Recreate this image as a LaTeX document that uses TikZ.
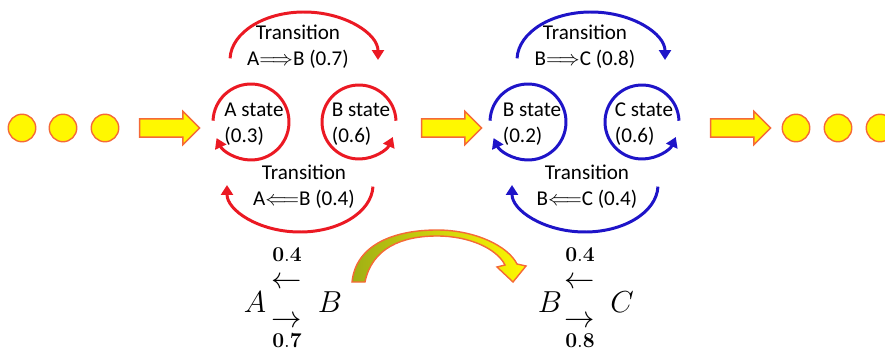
\documentclass[tikz,border=0pt]{standalone}
\usepackage[no-math]{fontspec}
\setmainfont{Carlito}
\usetikzlibrary{arrows.meta, shapes.arrows}

\definecolor{LoopRed}{RGB}{235, 25, 35}
\definecolor{LoopBlue}{RGB}{30, 20, 200}
\definecolor{ArrowEdge}{RGB}{245, 105, 55}
\definecolor{ArrowFill}{RGB}{255, 248, 0}
\definecolor{Olive}{RGB}{160, 175, 20}

\begin{document}
\begin{tikzpicture}[
    x=0.02cm, y=0.02cm,
    every node/.style={font=\fontsize{12}{14.5}\selectfont, align=center, inner sep=0pt},
    seqdot/.style={circle, draw=ArrowEdge, fill=ArrowFill, line width=0.8pt, minimum size=0.55cm},
    blockarrow/.style={single arrow, draw=ArrowEdge, fill=ArrowFill, line width=0.8pt,
                inner xsep=0pt, inner ysep=0.17cm, minimum width=0.64cm, minimum height=1.2cm,
                single arrow head extend=0.15cm},
    statetxt/.style={align=left},
    redloop/.style={draw=LoopRed, line width=1.7pt, -{Triangle[length=0.2cm, width=0.24cm]}},
    blueloop/.style={draw=LoopBlue, line width=1.7pt, -{Triangle[length=0.2cm, width=0.24cm]}},
    mathlbl/.style={font=\fontsize{18}{18}\selectfont},
    numlbl/.style={font=\fontsize{12}{12}\selectfont}
]
\useasboundingbox (0,0) rectangle (885,352);

% sequence before and after
\node[seqdot] (d1) at (22,224) {};
\node[seqdot] (d2) at (63,224) {};
\node[seqdot] (d3) at (105,224) {};
\node[blockarrow] (go1) at (165,224) {};
\node[blockarrow] (go2) at (447,224) {};
\node[blockarrow] (go3) at (736,224) {};
\node[seqdot] (d4) at (796,224) {};
\node[seqdot] (d5) at (838,224) {};
\node[seqdot] (d6) at (880,224) {};

% red pair A / B
\coordinate (cA) at (251,230);
\coordinate (cB) at (359,230);
\node[statetxt] (sA) at (254,228) {A state\\(0.3)};
\node[statetxt] (sB) at (361,228) {B state\\(0.6)};
\draw[redloop] ([shift={(178:38)}]cA) arc[start angle=178, end angle=-155, radius=38];
\draw[redloop] ([shift={(2:37)}]cB) arc[start angle=2, end angle=336, radius=37];

\coordinate (rTop) at (304,292);
\coordinate (rBot) at (300,167);
\node (tAB) at (298,305.5) {Transition\\A$\Longrightarrow$B (0.7)};
\node (tBA) at (304,165.5) {Transition\\A$\Longleftarrow$B (0.4)};
\draw[redloop] ([shift={(178:74 and 48)}]rTop) arc[start angle=178, end angle=0, x radius=74, y radius=48];
\draw[redloop] ([shift={(-2:73 and 47)}]rBot) arc[start angle=-2, end angle=-180, x radius=73, y radius=47];

% blue pair B / C
\coordinate (cB2) at (528,230);
\coordinate (cC) at (642,230);
\node[statetxt] (sB2) at (532,228) {B state\\(0.2)};
\node[statetxt] (sC) at (644,228) {C state\\(0.6)};
\draw[blueloop] ([shift={(178:38)}]cB2) arc[start angle=178, end angle=-155, radius=38];
\draw[blueloop] ([shift={(2:37)}]cC) arc[start angle=2, end angle=336, radius=37];

\coordinate (bTop) at (591,292);
\coordinate (bBot) at (585,167);
\node (tBC) at (585,305.5) {Transition\\B$\Longrightarrow$C (0.8)};
\node (tCB) at (587,165.5) {Transition\\B$\Longleftarrow$C (0.4)};
\draw[blueloop] ([shift={(178:74 and 48)}]bTop) arc[start angle=178, end angle=0, x radius=74, y radius=48];
\draw[blueloop] ([shift={(-2:73 and 47)}]bBot) arc[start angle=-2, end angle=-180, x radius=73, y radius=47];

% compact notation
\node[mathlbl] (mA) at (255,50) {$A$};
\node[mathlbl] (mB) at (330,50) {$B$};
\node[numlbl] (pBA) at (287,97) {$\mathbf{0.4}$};
\node[mathlbl] (lBA) at (287,69) {$\leftarrow$};
\node[mathlbl] (lAB) at (287,30) {$\rightarrow$};
\node[numlbl] (pAB) at (287,11) {$\mathbf{0.7}$};

\node[mathlbl] (mB2) at (550,50) {$B$};
\node[mathlbl] (mC) at (622,50) {$C$};
\node[numlbl] (pCB) at (580,97) {$\mathbf{0.4}$};
\node[mathlbl] (lCB) at (580,69) {$\leftarrow$};
\node[mathlbl] (lBC) at (580,30) {$\rightarrow$};
\node[numlbl] (pBC) at (580,11) {$\mathbf{0.8}$};

% curved block arrow
\draw[draw=ArrowEdge, line width=0.8pt, left color=Olive, right color=ArrowFill]
    (352,70) .. controls (356,108) and (395,122) .. (437,122)
    .. controls (475,122) and (508,106) .. (517,88) -- (526,86) -- (513,70) -- (497,85) -- (505,87)
    .. controls (497,103) and (470,116) .. (437,116)
    .. controls (402,116) and (372,104) .. (365,70) -- cycle;
\end{tikzpicture}
\end{document}
